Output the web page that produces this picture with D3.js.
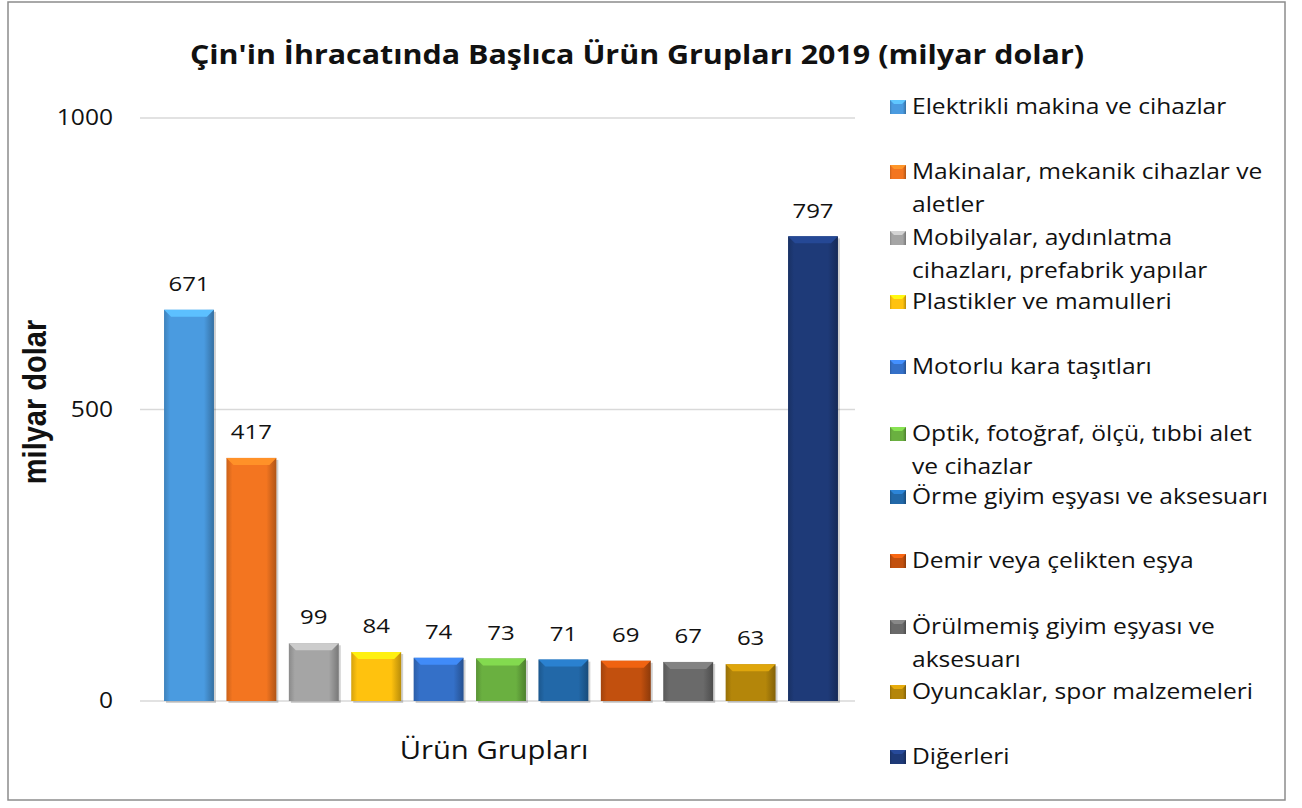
<!DOCTYPE html>
<html>
<head>
<meta charset="utf-8">
<script src="https://cdn.jsdelivr.net/npm/d3@7"></script>
<style>
  body { margin: 0; background: #fff; }
  text { font-family: "Open Sans", sans-serif; fill: #111; }
</style>
</head>
<body>
<svg id="chart"></svg>
<script>
const categories = [
  'Elektrikli makina ve cihazlar',
  'Makinalar, mekanik cihazlar ve aletler',
  'Mobilyalar, aydınlatma cihazları, prefabrik yapılar',
  'Plastikler ve mamulleri',
  'Motorlu kara taşıtları',
  'Optik, fotoğraf, ölçü, tıbbi alet ve cihazlar',
  'Örme giyim eşyası ve aksesuarı',
  'Demir veya çelikten eşya',
  'Örülmemiş giyim eşyası ve aksesuarı',
  'Oyuncaklar, spor malzemeleri',
  'Diğerleri'
]
const values = [671, 417, 99, 84, 74, 73, 71, 69, 67, 63, 797]
const legendLines = [
  ['Elektrikli makina ve cihazlar'],
  ['Makinalar, mekanik cihazlar ve', 'aletler'],
  ['Mobilyalar, aydınlatma', 'cihazları, prefabrik yapılar'],
  ['Plastikler ve mamulleri'],
  ['Motorlu kara taşıtları'],
  ['Optik, fotoğraf, ölçü, tıbbi alet', 've cihazlar'],
  ['Örme giyim eşyası ve aksesuarı'],
  ['Demir veya çelikten eşya'],
  ['Örülmemiş giyim eşyası ve', 'aksesuarı'],
  ['Oyuncaklar, spor malzemeleri'],
  ['Diğerleri']
]
const colors = ['#4a9be0', '#f37520', '#a5a5a5', '#ffc20e', '#3470c8', '#6ab040',
                '#2268a8', '#c2500e', '#6a6a6a', '#b4860a', '#1e3a78']
const yTicks = [0, 500, 1000]

const W = 1302, H = 808
const SX = 1.17   // text in the reference is a bit wide

function at(x, y) {
    return 'translate(' + x + ',' + y + ') scale(' + SX + ',1)'
}

var svg = d3.select('#chart').attr('width', W).attr('height', H)

svg.append('rect')
   .attr('x', 8).attr('y', 2)
   .attr('width', 1277).attr('height', 798)
   .attr('fill', '#fff')
   .attr('stroke', '#8c8c8c').attr('stroke-width', 1.5)

svg.append('text')
   .attr('transform', at(637, 64))
   .attr('text-anchor', 'middle')
   .style('font-size', '26px').style('font-weight', 'bold')
   .text("Çin'in İhracatında Başlıca Ürün Grupları 2019 (milyar dolar)")

var y = d3.scaleLinear().domain([0, 1000]).range([701, 118])
var x = d3.scaleBand().domain(d3.range(values.length))
          .range([157.8, 844.2]).paddingInner(0.2).paddingOuter(0.1)

// gridlines
svg.append('g').selectAll('line')
   .data(yTicks).enter().append('line')
   .attr('x1', 140).attr('x2', 855)
   .attr('y1', d => y(d)).attr('y2', d => y(d))
   .attr('stroke', '#d9d9d9').attr('stroke-width', 1.3)

svg.append('g').selectAll('text')
   .data(yTicks).enter().append('text')
   .attr('transform', d => at(113, y(d)))
   .attr('dy', '.35em')
   .attr('text-anchor', 'end')
   .style('font-size', '21px')
   .text(d => d)

svg.append('text')
   .attr('transform', 'translate(46, 402) rotate(-90) scale(1,' + SX + ')')
   .attr('text-anchor', 'middle')
   .style('font-family', '"Liberation Sans", Arial, sans-serif')
   .style('font-size', '29px').style('font-weight', 'bold')
   .text('milyar dolar')

svg.append('text')
   .attr('transform', at(494, 759))
   .attr('text-anchor', 'middle')
   .style('font-size', '25px')
   .text('Ürün Grupları')

// gradients for bevel look
var defs = svg.append('defs')
colors.forEach(function (c, i) {
    var g = defs.append('linearGradient').attr('id', 'grad' + i)
                .attr('x1', 0).attr('x2', 1).attr('y1', 0).attr('y2', 0)
    g.append('stop').attr('offset', '0%').attr('stop-color', d3.color(c).darker(0.5))
    g.append('stop').attr('offset', '12%').attr('stop-color', c)
    g.append('stop').attr('offset', '80%').attr('stop-color', c)
    g.append('stop').attr('offset', '100%').attr('stop-color', d3.color(c).darker(0.9))
})

var bars = svg.append('g').selectAll('g')
   .data(values).enter().append('g')

bars.append('rect')
    .attr('x', (d, i) => x(i) + 2).attr('y', d => y(d) + 2)
    .attr('width', x.bandwidth()).attr('height', d => y(0) - y(d))
    .attr('fill', '#000').attr('opacity', 0.18)

bars.append('rect')
    .attr('x', (d, i) => x(i)).attr('y', d => y(d))
    .attr('width', x.bandwidth()).attr('height', d => y(0) - y(d))
    .attr('fill', (d, i) => 'url(#grad' + i + ')')

// top bevel
bars.append('path')
    .attr('d', function (d, i) {
        var x0 = x(i), x1 = x(i) + x.bandwidth(), t = y(d), b = 7
        return 'M' + x0 + ',' + t + 'L' + x1 + ',' + t
             + 'L' + (x1 - b) + ',' + (t + b) + 'L' + (x0 + b) + ',' + (t + b) + 'Z'
    })
    .attr('fill', (d, i) => d3.color(colors[i]).brighter(0.6))

bars.append('text')
    .attr('transform', (d, i) => at(x(i) + x.bandwidth() / 2, y(d) - 26))
    .attr('dy', '.35em')
    .attr('text-anchor', 'middle')
    .style('font-size', '20.5px')
    .text(d => d)

// legend
var legendY = [107, 172, 238, 302, 367, 434, 497, 561, 627, 692, 757]
var legend = svg.append('g').selectAll('g')
   .data(legendLines).enter().append('g')
   .attr('transform', (d, i) => 'translate(890,' + legendY[i] + ')')

legend.append('rect')
      .attr('x', 0).attr('y', -7)
      .attr('width', 16).attr('height', 14)
      .attr('fill', (d, i) => 'url(#grad' + i + ')')
legend.append('path')
      .attr('d', 'M0,-7L16,-7L12,-3L4,-3Z')
      .attr('fill', (d, i) => d3.color(colors[i]).brighter(0.7))

legend.append('text')
      .attr('transform', at(22, 0))
      .style('font-size', '21px')
      .selectAll('tspan')
      .data(d => d).enter().append('tspan')
      .attr('x', 0)
      .attr('y', (d, j) => j * 33)
      .attr('dy', '.35em')
      .text(d => d)
</script>
</body>
</html>
